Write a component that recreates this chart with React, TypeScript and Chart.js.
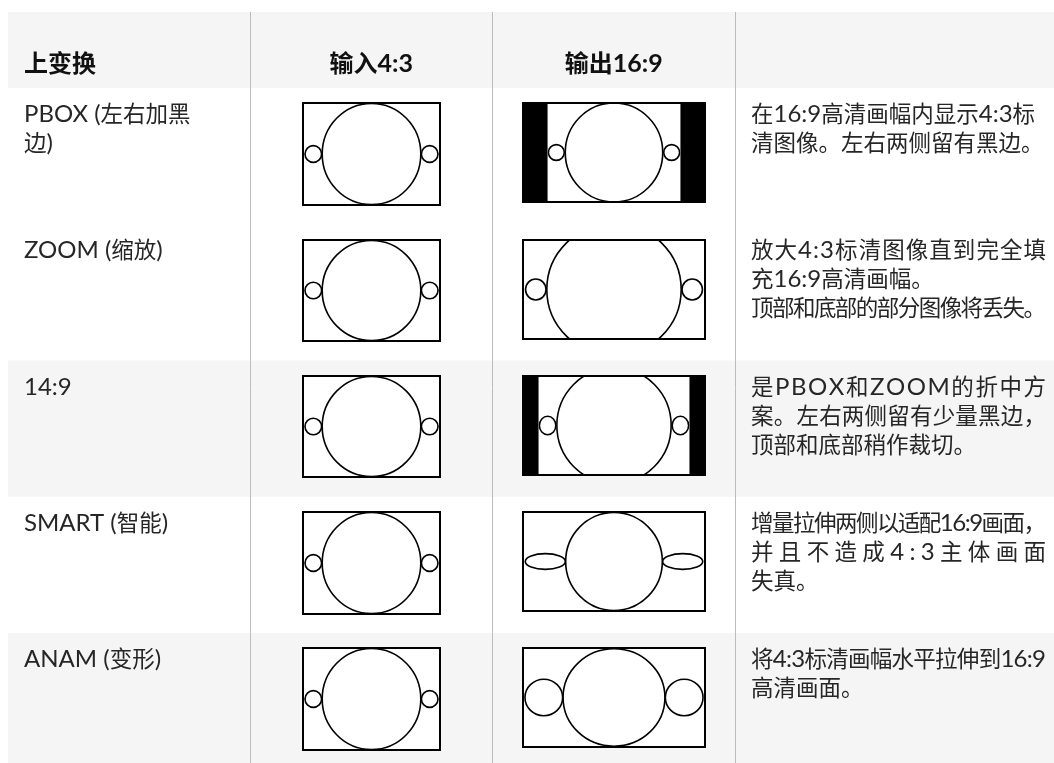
import React, { useEffect, useRef } from "react";
import { Chart, registerables } from "chart.js";

Chart.register(...registerables);

// ---------------- table content ----------------
const headerLabels = ["上变换", "输入4:3", "输出16:9", ""];
const modeNames = ["PBOX", "ZOOM", "14:9", "SMART", "ANAM"];
const modeLabelLines = [
  ["PBOX (左右加黑", "边)"],
  ["ZOOM (缩放)"],
  ["14:9"],
  ["SMART (智能)"],
  ["ANAM (变形)"],
];
const descriptionLines = [
  ["在16:9高清画幅内显示4:3标", "清图像。左右两侧留有黑边。"],
  ["放大4:3标清图像直到完全填", "充16:9高清画幅。", "顶部和底部的部分图像将丢失。"],
  ["是PBOX和ZOOM的折中方", "案。左右两侧留有少量黑边，", "顶部和底部稍作裁切。"],
  ["增量拉伸两侧以适配16:9画面，", "并且不造成4:3主体画面", "失真。"],
  ["将4:3标清画幅水平拉伸到16:9", "高清画面。"],
];
const descriptionJustified = [
  [false, false],
  [true, false, false],
  [true, true, false],
  [true, true, false],
  [true, false],
];
const shadedRows = [false, false, true, false, true];

// ---------------- picture geometry (units of the picture frame, frame height ~100) ----------------
// 4:3 source picture, identical in every row: [rx, ry] of the big circle, [offset, rx, ry] of the side circles
const inputBigCircle = [49.3, 50.3];
const inputSideCircle = [58.2, 8.3, 8.3];
// 16:9 result of each conversion mode
const outputBarWidth = [24.5, 0, 15.5, 0, 0];
const outputBigRx = [48.6, 67, 57, 48.2, 50.8];
const outputBigRy = [49.5, 66, 58, 49, 48.7];
const outputSideOffset = [57.5, 78, 66.2, 68.5, 70];
const outputSideRx = [7.9, 10.2, 8.2, 20, 18.8];
const outputSideRy = [7.9, 10.5, 9.2, 7.9, 18.3];

// ---------------- layout (value units of the scales) ----------------
const TABLE_LEFT = 8;
const TABLE_RIGHT = 1054;
const TABLE_TOP = 12;
const PAGE_BOTTOM = 763;
const COLUMN_EDGES = [8, 250, 492.5, 735, 1054];
const HEADER_BOTTOM = 88;
const ROW_HEIGHT = 136.25;
const CELL_PAD = 16;
const FIRST_BASELINE = 34;
const LINE_HEIGHT = 29;
const HEADER_BASELINE = 71.5;
const PIC_TOP = 15.3;
const INPUT_BOX = [137, 101.5];
const OUTPUT_BOX = [181.5, 99];

const GRAY_BG = "#f5f5f5";
const GRID_COLOR = "#bcbcbc";
const TEXT_COLOR = "#262626";
const HEADER_COLOR = "#111111";

const CJK_RE = /[\u2e80-\u9fff\u3000-\u303f\uff00-\uffef]/;

type TextOpts = {
  weight: string;
  latin: number;
  cjk: number;
  width?: number; // justify to this width
  maxWidth?: number; // compress if wider
  align?: "left" | "center";
};

function fontFor(c: string, o: TextOpts) {
  return CJK_RE.test(c)
    ? `${o.weight} ${o.cjk}px "Noto Sans CJK SC", sans-serif`
    : `${o.weight} ${o.latin}px Lato, "Noto Sans CJK SC", sans-serif`;
}

function drawTextLine(ctx: CanvasRenderingContext2D, text: string, x: number, baseline: number, o: TextOpts) {
  const chars = Array.from(text);
  const perChar = !!(o.width || o.maxWidth);
  const runs: { text: string; font: string; w: number }[] = [];
  for (const c of chars) {
    const f = fontFor(c, o);
    const last = runs[runs.length - 1];
    if (last && last.font === f && !perChar) last.text += c;
    else runs.push({ text: c, font: f, w: 0 });
  }
  let natural = 0;
  for (const r of runs) {
    ctx.font = r.font;
    r.w = ctx.measureText(r.text).width;
    natural += r.w;
  }
  let gap = 0;
  if (runs.length > 1) {
    if (o.width) gap = (o.width - natural) / (runs.length - 1);
    else if (o.maxWidth && natural > o.maxWidth) gap = (o.maxWidth - natural) / (runs.length - 1);
  }
  let cx = o.align === "center" ? x - natural / 2 : x;
  ctx.textAlign = "left";
  ctx.textBaseline = "alphabetic";
  for (const r of runs) {
    ctx.font = r.font;
    ctx.fillText(r.text, cx, baseline);
    cx += r.w + gap;
  }
}

function strokeEllipse(ctx: CanvasRenderingContext2D, cx: number, cy: number, rx: number, ry: number) {
  ctx.beginPath();
  ctx.ellipse(cx, cy, rx, ry, 0, 0, Math.PI * 2);
  ctx.stroke();
}

const rowTop = (i: number) => HEADER_BOTTOM + i * ROW_HEIGHT;

const tablePlugin = {
  id: "conversionTable",
  beforeDraw(chart: any) {
    const { ctx } = chart;
    const x = chart.scales.x;
    const y = chart.scales.y;
    const px = (v: number) => x.getPixelForValue(v);
    const py = (v: number) => y.getPixelForValue(v);
    ctx.save();
    ctx.fillStyle = "#ffffff";
    ctx.fillRect(0, 0, chart.width, chart.height);
    ctx.fillStyle = GRAY_BG;
    ctx.fillRect(px(TABLE_LEFT), py(TABLE_TOP), px(TABLE_RIGHT) - px(TABLE_LEFT), py(HEADER_BOTTOM) - py(TABLE_TOP));
    modeNames.forEach((_, i) => {
      if (!shadedRows[i]) return;
      const t = rowTop(i);
      const bottom = Math.min(t + ROW_HEIGHT, PAGE_BOTTOM);
      ctx.fillRect(px(TABLE_LEFT), py(t), px(TABLE_RIGHT) - px(TABLE_LEFT), py(bottom) - py(t));
    });
    ctx.restore();
  },
  afterDraw(chart: any) {
    const { ctx } = chart;
    const x = chart.scales.x;
    const y = chart.scales.y;
    const px = (v: number) => x.getPixelForValue(v);
    const py = (v: number) => y.getPixelForValue(v);
    ctx.save();

    // header labels
    ctx.fillStyle = HEADER_COLOR;
    const hOpts: TextOpts = { weight: "bold", latin: 25, cjk: 24 };
    headerLabels.forEach((label, c) => {
      if (!label) return;
      if (c === 0) {
        drawTextLine(ctx, label, px(COLUMN_EDGES[0] + CELL_PAD), py(HEADER_BASELINE), hOpts);
      } else {
        const mid = (COLUMN_EDGES[c] + COLUMN_EDGES[c + 1]) / 2;
        drawTextLine(ctx, label, px(mid), py(HEADER_BASELINE), { ...hOpts, align: "center" });
      }
    });

    const bodyOpts: TextOpts = { weight: "normal", latin: 24, cjk: 22.5 };
    modeNames.forEach((_, i) => {
      const t = rowTop(i);
      // mode label
      ctx.fillStyle = TEXT_COLOR;
      modeLabelLines[i].forEach((line, k) => {
        drawTextLine(ctx, line, px(COLUMN_EDGES[0] + CELL_PAD), py(t + FIRST_BASELINE + k * LINE_HEIGHT), bodyOpts);
      });
      // description
      const dx = COLUMN_EDGES[3] + CELL_PAD;
      const dw = px(TABLE_RIGHT - 8) - px(dx);
      descriptionLines[i].forEach((line, k) => {
        drawTextLine(ctx, line, px(dx), py(t + FIRST_BASELINE + k * LINE_HEIGHT), {
          ...bodyOpts,
          width: descriptionJustified[i][k] ? dw : undefined,
          maxWidth: dw,
        });
      });

      // input 4:3 picture
      {
        const mid = (COLUMN_EDGES[1] + COLUMN_EDGES[2]) / 2;
        const [w, h] = INPUT_BOX;
        const l = Math.round(px(mid - w / 2));
        const r = Math.round(px(mid + w / 2));
        const tp = Math.round(py(t + PIC_TOP));
        const b = Math.round(py(t + PIC_TOP + h));
        const ux = (r - l) / w;
        const uy = (b - tp) / h;
        const ccx = (l + r) / 2;
        const ccy = (tp + b) / 2;
        ctx.fillStyle = "#ffffff";
        ctx.fillRect(l, tp, r - l, b - tp);
        ctx.strokeStyle = "#000000";
        ctx.lineWidth = 1.6;
        strokeEllipse(ctx, ccx, ccy, inputBigCircle[0] * ux, inputBigCircle[1] * uy);
        [-1, 1].forEach((s) =>
          strokeEllipse(ctx, ccx + s * inputSideCircle[0] * ux, ccy, inputSideCircle[1] * ux, inputSideCircle[2] * uy)
        );
        ctx.lineWidth = 2;
        ctx.strokeRect(l, tp, r - l, b - tp);
      }

      // output 16:9 picture
      {
        const mid = (COLUMN_EDGES[2] + COLUMN_EDGES[3]) / 2;
        const [w, h] = OUTPUT_BOX;
        const l = Math.round(px(mid - w / 2));
        const r = Math.round(px(mid + w / 2));
        const tp = Math.round(py(t + PIC_TOP));
        const b = Math.round(py(t + PIC_TOP + h));
        const ux = (r - l) / w;
        const uy = (b - tp) / h;
        const ccx = (l + r) / 2;
        const ccy = (tp + b) / 2;
        const bar = outputBarWidth[i] * ux;
        ctx.fillStyle = "#ffffff";
        ctx.fillRect(l, tp, r - l, b - tp);
        ctx.save();
        ctx.beginPath();
        ctx.rect(l + bar, tp, r - l - 2 * bar, b - tp);
        ctx.clip();
        ctx.strokeStyle = "#000000";
        ctx.lineWidth = 1.6;
        strokeEllipse(ctx, ccx, ccy, outputBigRx[i] * ux, outputBigRy[i] * uy);
        [-1, 1].forEach((s) =>
          strokeEllipse(ctx, ccx + s * outputSideOffset[i] * ux, ccy, outputSideRx[i] * ux, outputSideRy[i] * uy)
        );
        ctx.restore();
        if (bar > 0) {
          ctx.fillStyle = "#000000";
          ctx.fillRect(l, tp, bar, b - tp);
          ctx.fillRect(r - bar, tp, bar, b - tp);
        }
        ctx.strokeStyle = "#000000";
        ctx.lineWidth = 2;
        ctx.strokeRect(l, tp, r - l, b - tp);
      }
    });
    ctx.restore();
  },
};

export default function App() {
  const ref = useRef<HTMLCanvasElement>(null);
  useEffect(() => {
    document.body.style.margin = "0";
    document.body.style.overflow = "hidden";
    const canvas = ref.current!;
    const chart = new Chart(canvas, {
      type: "scatter",
      data: { datasets: [{ data: [], pointRadius: 0 }] },
      options: {
        animation: false,
        responsive: false,
        maintainAspectRatio: false,
        events: [],
        layout: { padding: { top: TABLE_TOP, left: TABLE_LEFT, right: 0, bottom: 0 } },
        plugins: { legend: { display: false }, tooltip: { enabled: false } },
        scales: {
          x: {
            type: "linear",
            min: TABLE_LEFT,
            max: TABLE_RIGHT,
            ticks: { display: false },
            border: { display: false },
            grid: { color: GRID_COLOR, lineWidth: 1, drawTicks: false },
            afterBuildTicks: (scale: any) => {
              scale.ticks = COLUMN_EDGES.slice(1, -1).map((v) => ({ value: v }));
            },
          },
          y: {
            type: "linear",
            min: TABLE_TOP,
            max: PAGE_BOTTOM,
            reverse: true,
            display: false,
          },
        },
      } as any,
      plugins: [tablePlugin as any],
    });
    let alive = true;
    Promise.all([
      document.fonts.load('24px Lato'),
      document.fonts.load('bold 25px Lato'),
      document.fonts.load('22px "Noto Sans CJK SC"', "中"),
      document.fonts.load('bold 24px "Noto Sans CJK SC"', "中"),
    ])
      .then(() => {
        if (alive) chart.draw();
      })
      .catch(() => {});
    return () => {
      alive = false;
      chart.destroy();
    };
  }, []);
  return <canvas ref={ref} width={1054} height={763} style={{ display: "block", width: 1054, height: 763 }} />;
}
